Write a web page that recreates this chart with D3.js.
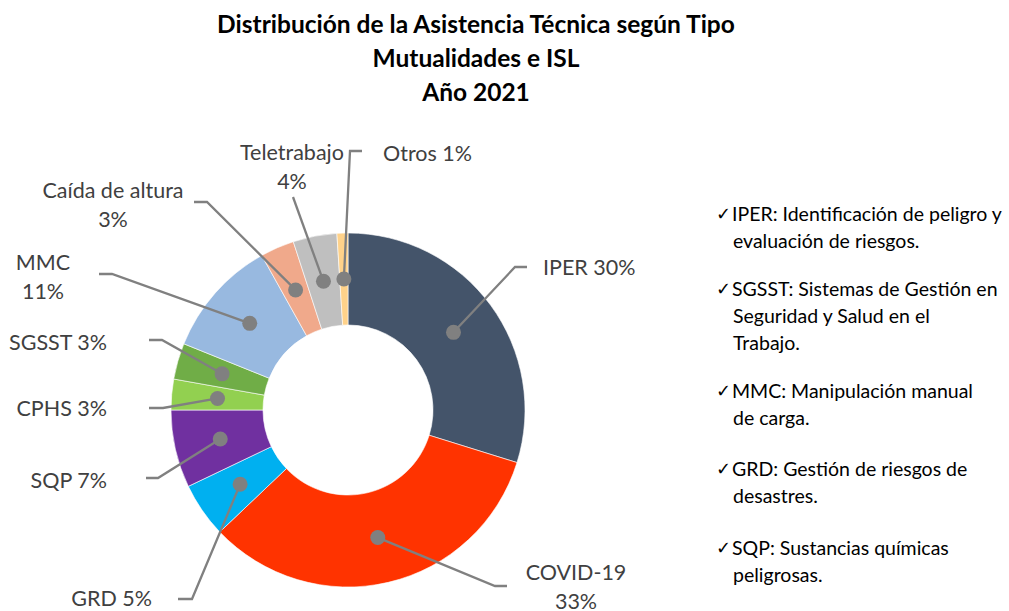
<!DOCTYPE html>
<html>
<head>
<meta charset="utf-8">
<script src="https://cdn.jsdelivr.net/npm/d3@7"></script>
<style>
  body { margin: 0; background: #fff; }
  svg { display: block; font-family: Lato, "Open Sans", sans-serif; }
</style>
</head>
<body>
<div id="chart"></div>
<script>
// Data
let categories = ["IPER", "COVID-19", "GRD", "SQP", "CPHS", "SGSST", "MMC", "Caída de altura", "Teletrabajo", "Otros"];
let shares = [29.8, 33.1, 5.0, 7.1, 2.8, 3.3, 10.8, 3.1, 4.0, 1.0];
let pctLabels = ["30%", "33%", "5%", "7%", "3%", "3%", "11%", "3%", "4%", "1%"];
let titleLines = ["Distribución de la Asistencia Técnica según Tipo", "Mutualidades e ISL", "Año 2021"];
let notes = [
  ["IPER: Identificación de peligro y", "evaluación de riesgos."],
  ["SGSST: Sistemas de Gestión en", "Seguridad y Salud en el", "Trabajo."],
  ["MMC: Manipulación manual", "de carga."],
  ["GRD: Gestión de riesgos de", "desastres."],
  ["SQP: Sustancias químicas", "peligrosas."]
];

let colors = ["#44546A", "#FF3300", "#00B0F0", "#7030A0", "#92D050", "#70AD47", "#98B9E0", "#F0A98B", "#BFBFBF", "#FFD28A"];

// label layout: elbow point, line end, text position, anchor, split into two lines?
let labelLayout = [
  {elbow: [515, 267], end: [527, 267], tx: 543, ty: 267, anchor: "start", two: false},
  {elbow: [495, 586], end: [507, 586], tx: 576, ty: 572, anchor: "middle", two: true},
  {elbow: [192, 599], end: [178, 599], tx: 152, ty: 598, anchor: "end", two: false},
  {elbow: [158, 478], end: [146, 478], tx: 107, ty: 480, anchor: "end", two: false},
  {elbow: [163, 408], end: [149, 408], tx: 107, ty: 408, anchor: "end", two: false},
  {elbow: [162, 340], end: [149, 340], tx: 107, ty: 342, anchor: "end", two: false},
  {elbow: [112, 274], end: [99, 274], tx: 43, ty: 262, anchor: "middle", two: true},
  {elbow: [207, 202], end: [194, 202], tx: 113, ty: 190, anchor: "middle", two: true},
  {elbow: [293, 197], end: [293, 197], tx: 292, ty: 152, anchor: "middle", two: true},
  {elbow: [350, 151], end: [362, 151], tx: 383, ty: 153, anchor: "start", two: false}
];

let width = 1009, height = 611;
let cx = 348, cy = 410;
let outerR = 177, innerR = 85;

const svg = d3.select("#chart").append("svg")
  .attr("width", width)
  .attr("height", height);

// title
svg.append("g")
  .selectAll("text")
  .data(titleLines)
  .join("text")
  .attr("x", 476)
  .attr("y", (d, i) => 23 + i * 34)
  .attr("text-anchor", "middle")
  .attr("dominant-baseline", "central")
  .attr("font-weight", "bold")
  .attr("font-size", 24.5)
  .attr("fill", "#000")
  .text(d => d);

let rows = categories.map((c, i) => ({name: c, value: shares[i], pct: pctLabels[i], color: colors[i], lay: labelLayout[i]}));

let pie = d3.pie().sort(null).value(d => d.value);
let arc = d3.arc().innerRadius(innerR).outerRadius(outerR);
let mid = d3.arc().innerRadius((innerR + outerR) / 2).outerRadius((innerR + outerR) / 2);

let arcs = pie(rows);
const g = svg.append("g").attr("transform", `translate(${cx},${cy})`);

g.selectAll("path")
  .data(arcs)
  .join("path")
  .attr("d", arc)
  .attr("fill", d => d.data.color)
  .attr("stroke", "#fff")
  .attr("stroke-width", 0.6);

// leader lines
svg.append("g")
  .selectAll("polyline")
  .data(arcs)
  .join("polyline")
  .attr("points", d => {
    let c = mid.centroid(d);
    let l = d.data.lay;
    return [[cx + c[0], cy + c[1]], l.elbow, l.end].map(p => p.join(",")).join(" ");
  })
  .attr("fill", "none")
  .attr("stroke", "#808080")
  .attr("stroke-width", 2.3);

svg.append("g")
  .selectAll("circle")
  .data(arcs)
  .join("circle")
  .attr("cx", d => cx + mid.centroid(d)[0])
  .attr("cy", d => cy + mid.centroid(d)[1])
  .attr("r", 7.5)
  .attr("fill", "#808080");

// labels
let lbl = svg.append("g")
  .selectAll("text")
  .data(arcs)
  .join("text")
  .attr("x", d => d.data.lay.tx)
  .attr("y", d => d.data.lay.ty)
  .attr("text-anchor", d => d.data.lay.anchor)
  .attr("dominant-baseline", "central")
  .attr("font-size", 21.5)
  .attr("fill", "#404040");

lbl.each(function(d) {
  let t = d3.select(this);
  if (d.data.lay.two) {
    t.append("tspan").attr("x", d.data.lay.tx).text(d.data.name);
    t.append("tspan").attr("x", d.data.lay.tx).attr("dy", 28.5).text(d.data.pct);
  } else {
    t.text(d.data.name + " " + d.data.pct);
  }
});

// notes on the right
let noteY = [213, 288, 390, 468, 547];
let notesG = svg.append("g").attr("font-size", 19.5).attr("fill", "#000");
notes.forEach((lines, i) => {
  notesG.append("text")
    .attr("x", 716)
    .attr("y", noteY[i])
    .attr("dominant-baseline", "central")
    .attr("font-family", "'DejaVu Sans', sans-serif")
    .attr("font-size", 18)
    .text("✓");
  lines.forEach((ln, j) => {
    notesG.append("text")
      .attr("x", j === 0 ? 732 : 733)
      .attr("y", noteY[i] + j * 27)
      .attr("dominant-baseline", "central")
      .text(ln);
  });
});
</script>
</body>
</html>
